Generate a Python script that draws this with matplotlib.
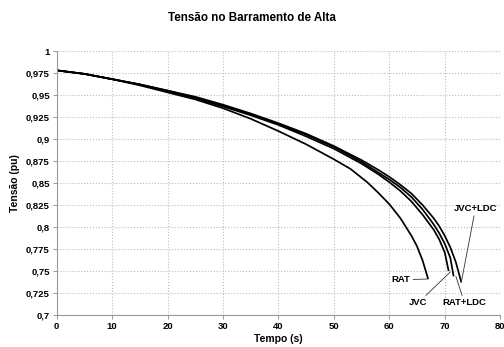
import matplotlib
matplotlib.use("Agg")
import matplotlib.pyplot as plt
from matplotlib.ticker import FuncFormatter

plt.rcParams['font.family'] = ['Liberation Sans', 'DejaVu Sans']
plt.rcParams['font.weight'] = 'bold'

# Tensão (pu) x Tempo (s) for each case
t_rat = [0, 5, 10, 15, 20, 25, 30, 35, 40, 45, 50, 53, 56, 58, 60, 62, 63, 64, 65, 66, 67]
v_rat = [0.978, 0.974, 0.968, 0.961, 0.953, 0.945, 0.935, 0.923, 0.909, 0.894, 0.877,
         0.866, 0.851, 0.839, 0.826, 0.810, 0.800, 0.790, 0.778, 0.762, 0.741]

t_jvc = [0, 5, 10, 15, 20, 25, 30, 35, 40, 45, 50, 55, 58, 60, 62, 64, 66, 68, 69, 70, 70.7]
v_jvc = [0.978, 0.974, 0.968, 0.962, 0.954, 0.946, 0.937, 0.927, 0.916, 0.903, 0.889,
         0.872, 0.860, 0.851, 0.841, 0.829, 0.814, 0.797, 0.786, 0.771, 0.750]

t_ratldc = [0, 5, 10, 15, 20, 25, 30, 35, 40, 45, 50, 55, 58, 60, 62, 64, 66, 68, 69, 70, 71, 71.6]
v_ratldc = [0.978, 0.974, 0.968, 0.962, 0.955, 0.947, 0.938, 0.928, 0.917, 0.905, 0.891,
            0.874, 0.862, 0.854, 0.845, 0.834, 0.820, 0.803, 0.793, 0.781, 0.765, 0.744]

t_jvcldc = [0, 5, 10, 15, 20, 25, 30, 35, 40, 45, 50, 55, 58, 60, 62, 64, 66, 68, 69, 70, 71, 72, 73]
v_jvcldc = [0.978, 0.974, 0.968, 0.962, 0.955, 0.948, 0.939, 0.929, 0.918, 0.906, 0.892,
            0.876, 0.865, 0.857, 0.848, 0.838, 0.825, 0.810, 0.801, 0.790, 0.777, 0.760, 0.737]

x_ticks = list(range(0, 81, 10))
y_ticks = [0.7, 0.725, 0.75, 0.775, 0.8, 0.825, 0.85, 0.875, 0.9, 0.925, 0.95, 0.975, 1.0]

fig = plt.figure(figsize=(5.04, 3.47), dpi=100)
ax = fig.add_axes([0.1125, 0.092, 0.88, 0.761])

for t, v in [(t_rat, v_rat), (t_jvc, v_jvc), (t_ratldc, v_ratldc), (t_jvcldc, v_jvcldc)]:
    ax.plot(t, v, color='black', lw=1.25, solid_capstyle='butt')

ax.set_xlim(0, 80)
ax.set_ylim(0.7, 1.0)
ax.set_xticks(x_ticks)
ax.set_yticks(y_ticks)

def fmt(val, pos):
    s = ('%.3f' % val).rstrip('0').rstrip('.')
    return s.replace('.', ',')

ax.yaxis.set_major_formatter(FuncFormatter(fmt))
ax.tick_params(labelsize=6.8, length=3, width=0.6, color='#888888', pad=2)
ax.grid(True, color='#bbbbbb', linestyle=':', lw=0.8)
for side in ['top', 'right']:
    ax.spines[side].set_visible(False)
for side in ['left', 'bottom']:
    ax.spines[side].set_color('#999999')
    ax.spines[side].set_linewidth(0.8)

ax.set_xlabel('Tempo (s)', fontsize=7.5, fontweight='bold', labelpad=2)
ax.set_ylabel('Tensão (pu)', fontsize=7.5, fontweight='bold', labelpad=4)
fig.suptitle('Tensão no Barramento de Alta', fontsize=8.4, fontweight='bold', y=0.965)

arrow = dict(arrowstyle='-', color='#333333', lw=0.6, shrinkA=0, shrinkB=0)
ax.annotate('RAT', xy=(t_rat[-1], v_rat[-1]), xytext=(63.8, 0.740),
            ha='right', va='center', fontsize=6.8, fontweight='bold', arrowprops=arrow)
ax.annotate('JVC', xy=(71.0, 0.749), xytext=(66.9, 0.714),
            ha='right', va='center', fontsize=6.8, fontweight='bold', arrowprops=arrow)
ax.annotate('RAT+LDC', xy=(72.0, 0.744), xytext=(69.6, 0.714),
            ha='left', va='center', fontsize=6.8, fontweight='bold', arrowprops=arrow)
ax.annotate('JVC+LDC', xy=(73.0, 0.738), xytext=(71.6, 0.821),
            ha='left', va='center', fontsize=6.8, fontweight='bold', arrowprops=arrow)

fig.savefig('out.png', dpi=100)
